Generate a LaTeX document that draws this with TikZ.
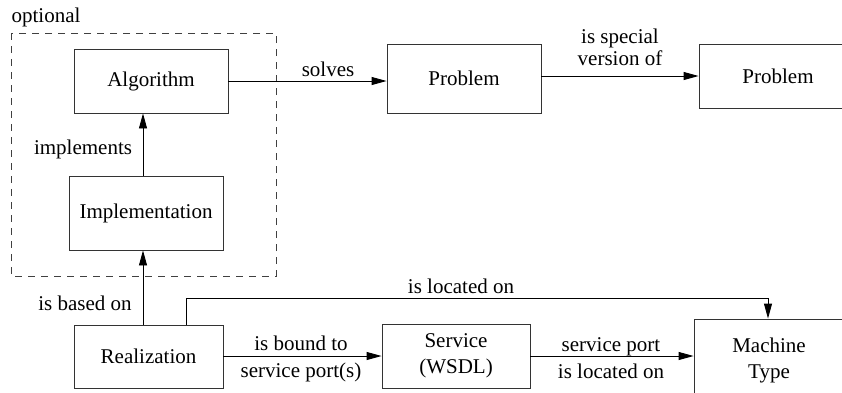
\documentclass[tikz,border=0pt]{standalone}
\usepackage{fontspec}
\setmainfont{Liberation Serif}
\usetikzlibrary{arrows.meta}

\tikzset{
  every node/.style={font=\fontsize{21}{26}\selectfont, inner sep=0pt},
  box/.style={draw, line width=0.9pt, draw=black!80, align=center},
  lbl/.style={align=center, font=\fontsize{21}{22}\selectfont},
  arr/.style={line width=0.9pt, -{Triangle[length=15pt,width=8pt]}},
  link/.style={line width=0.9pt},
  optframe/.style={draw=black!75, line width=0.8pt, dash pattern=on 7pt off 6pt}
}

\begin{document}
\begin{tikzpicture}[x=1pt,y=-1pt]
  \clip (0,0) rectangle (842,392);
  \fill[white] (0,0) rectangle (842,392);

  % optional group
  \draw[optframe] (11,33) rectangle (276,276);
  \node (opt) at (46,17) {optional};

  % boxes
  \node[box, minimum width=154pt, minimum height=64pt] (alg)  at (151,81)    {Algorithm};
  \node[box, minimum width=154pt, minimum height=74pt] (impl) at (146,213)   {Implementation};
  \node[box, minimum width=149pt, minimum height=63pt] (real) at (148.5,356.5) {Realization};
  \node[box, minimum width=154pt, minimum height=69pt] (prob) at (464,78.5)  {Problem};
  \node[box, minimum width=158pt, minimum height=64pt] (spec) at (778,76)    {Problem};
  \node[box, minimum width=148pt, minimum height=64pt] (serv) at (456,356)   {Service\\(WSDL)};
  \node[box, minimum width=150pt, minimum height=82pt] (mach) at (769,360)   {Machine\\Type};

  % helper coordinates for connector routing
  \coordinate (vx)   at (143,0);
  \coordinate (lx)   at (186,0);
  \coordinate (bend) at (768,298);
  \coordinate (sy)   at (0,76);

  % connectors
  \draw[arr] (impl.north -| vx) -- (alg.south -| vx);
  \draw[arr] (real.north -| vx) -- (impl.south -| vx);
  \draw[arr] (alg.east) -- (alg.east -| prob.west);
  \draw[arr] (prob.east |- sy) -- (spec.west |- sy);
  \draw[link] (real.north -| lx) |- (bend);
  \draw[arr] (bend) -- (mach.north -| bend);
  \draw[arr] (real.east |- serv.east) -- (serv.west);
  \draw[arr] (serv.east) -- (serv.east -| mach.west);

  % connector labels
  \node[lbl] (limpl)  at (83,149)  {implements};
  \node[lbl] (lbased) at (85,303)  {is based on};
  \node[lbl] (lsolve) at (328,69)  {solves};
  \node[lbl] (lspec)  at (620,47)  {is special\\version of};
  \node[lbl] (lloc)   at (461,286) {is located on};
  \node[lbl] (lbound) at (301,358.5) {is bound to\\[5pt]service port(s)};
  \node[lbl] (lport)  at (611,358.5) {service port\\[5pt]is located on};
\end{tikzpicture}
\end{document}
